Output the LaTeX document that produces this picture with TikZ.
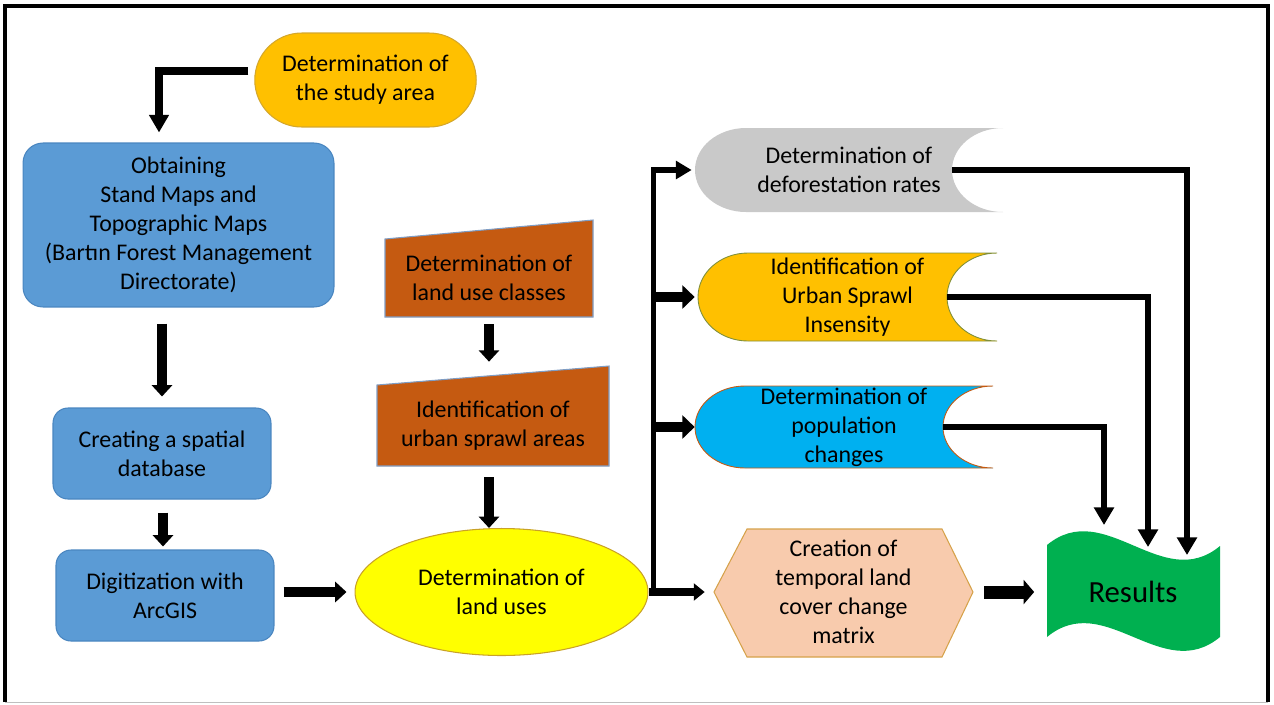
\documentclass[tikz,border=0pt]{standalone}
\usepackage{fontspec}
\setmainfont{Carlito}
\usetikzlibrary{positioning, shapes.geometric, shapes.misc, arrows.meta}

\definecolor{studygold}{HTML}{FFC000}
\definecolor{studyline}{HTML}{D4A72C}
\definecolor{mapblue}{HTML}{5B9BD5}
\definecolor{mapline}{HTML}{4A86C0}
\definecolor{classbrown}{HTML}{C55A11}
\definecolor{classline}{HTML}{7F9DC4}
\definecolor{landyellow}{HTML}{FFFF00}
\definecolor{landline}{HTML}{C9A227}
\definecolor{defogray}{HTML}{C9C9C9}
\definecolor{urbanline}{HTML}{7F8F3A}
\definecolor{popublue}{HTML}{00B0F0}
\definecolor{peach}{HTML}{F8CBAD}
\definecolor{peachline}{HTML}{D6A24A}
\definecolor{resgreen}{HTML}{00B050}

\tikzset{
  bluebox/.style={rectangle, rounded corners=0.4cm, fill=mapblue, draw=mapline, line width=0.6pt},
  fat/.style={line width=5.6pt, -{Triangle[width=11.5pt,length=6.5pt]}},
  trunk/.style={line width=3.4pt},
  slim/.style={line width=3pt, -{Triangle[width=11pt,length=10pt]}},
}

\begin{document}
\begin{tikzpicture}[x=0.02cm, y=-0.02cm,
  every node/.style={font=\fontsize{13.6}{16.5}\selectfont, align=center, inner sep=1pt}]
\useasboundingbox (0,0) rectangle (1274,704);
% frame
\draw[line width=2pt] (5,702) -- (5,6) -- (1268,6) -- (1268,702);
\draw[black!25] (5,702) -- (1268,702);

% left column
\node[rounded rectangle, fill=studygold, draw=studyline, line width=0.6pt,
  minimum width=4.5cm, minimum height=1.88cm] (study) at (365.5,80) {Determination of\\the study area};
\node[bluebox, minimum width=6.22cm, minimum height=3.28cm] (obtain) at (178.5,225)
  {Obtaining\\Stand Maps and\\Topographic Maps\\(Bartın Forest Management\\Directorate)};
\node[bluebox, rounded corners=0.3cm, minimum width=4.36cm, minimum height=1.82cm] (create) at (162,453.5) {Creating a spatial\\database};
\node[bluebox, rounded corners=0.3cm, minimum width=4.36cm, minimum height=1.82cm] (digit) at (165,595.5) {Digitization with\\ArcGIS};

% middle column
\draw[fill=classbrown, draw=classline, line width=0.6pt] (385,239) -- (593,220) -- (593,317) -- (385,317) -- cycle;
\node[minimum width=4.16cm, minimum height=1.56cm] (classes) at (489,278) {Determination of\\land use classes};
\draw[fill=classbrown, draw=classline, line width=0.6pt] (377,385) -- (609,366) -- (609,466) -- (377,466) -- cycle;
\node[minimum width=4.64cm, minimum height=1.62cm] (sprawl) at (493,425.5) {Identification of\\urban sprawl areas};
\node[ellipse, fill=landyellow, draw=landline, line width=0.6pt,
  minimum width=5.86cm, minimum height=2.54cm] (landuse) at (501.5,592) {Determination of\\land uses};

% right column
\fill[defogray] (746,128) -- (1003,128) arc[start angle=-90, end angle=-270, x radius=51, y radius=42]
  -- (746,212) arc[start angle=90, end angle=270, x radius=51, y radius=42] -- cycle;
\node[minimum width=6.16cm, minimum height=1.68cm] (defo) at (849,170) {Determination of\\deforestation rates};
\draw[fill=studygold, draw=urbanline, line width=0.5pt] (748,253) -- (997,253) arc[start angle=-90, end angle=-270, x radius=50, y radius=44]
  -- (748,341) arc[start angle=90, end angle=270, x radius=50, y radius=44] -- cycle;
\node[minimum width=5.98cm, minimum height=1.76cm] (urban) at (847.5,297) {Identification of\\Urban Sprawl\\Insensity};
\draw[fill=popublue, draw=classbrown, line width=0.5pt] (745,386) -- (993,386) arc[start angle=-90, end angle=-270, x radius=50, y radius=41]
  -- (745,468) arc[start angle=90, end angle=270, x radius=50, y radius=41] -- cycle;
\node[minimum width=5.96cm, minimum height=1.64cm] (popu) at (844,427) {Determination of\\population\\changes};
\draw[fill=peach, draw=peachline, line width=0.6pt] (714,592) -- (747,529) -- (942,529) -- (973,592) -- (942,657) -- (747,657) -- cycle;
\node[minimum width=5.18cm, minimum height=2.56cm] (change) at (843.5,592) {Creation of\\temporal land\\cover change\\matrix};
\fill[resgreen] (1047,545) .. controls (1105,497) and (1162,594) .. (1220,546)
  -- (1220,637) .. controls (1162,685) and (1105,589) .. (1047,637) -- cycle;
\node[font=\fontsize{17.5}{21}\selectfont, minimum width=3.46cm] (results) at (1133,592) {Results};

% connectors
\draw[line width=4.5pt, -{Triangle[width=10.8pt,length=10pt]}, shorten <=0.12cm, shorten >=0.2cm]
  ([yshift=0.18cm]study.west) -| ([xshift=-0.39cm]obtain.north);
\draw[fat, shorten <=0.32cm, shorten >=0.22cm] (create.north |- obtain.south) -- (create.north);
\draw[fat, shorten <=0.26cm, shorten >=0.06cm] ([xshift=0.02cm]create.south) -- ([xshift=0.02cm]create.south |- digit.north);
\draw[fat, shorten <=0.18cm, shorten >=0.16cm] (landuse.west -| digit.east) -- (landuse.west);
\draw[fat, shorten <=0.14cm, shorten >=0.46cm] (classes.south) -- (classes.south |- sprawl.north);
\draw[fat, shorten <=0.22cm] (sprawl.south -| classes.south) -- (landuse.north -| classes.south);

\coordinate (split) at ([xshift=0.1cm]landuse.east);
\draw[line width=4.2pt, -{Triangle[width=9.6pt,length=6.2pt]}, shorten >=0.18cm] (landuse.east) -- (change.west);
\draw[trunk, -{Triangle[width=10pt,length=9pt]}, shorten >=0.06cm] (split) |- (defo.west);
\draw[fat, -{Triangle[width=13pt,length=7pt]}, shorten >=0.06cm] (split |- urban.west) -- (urban.west);
\draw[fat, -{Triangle[width=13pt,length=7pt]}] (split |- popu.west) -- (popu.west);

\coordinate (resA) at (1104,525);
\coordinate (resB) at (1148,547);
\coordinate (resC) at (1187,555);
\draw[slim] ([xshift=-1.02cm]defo.east) -| (resC);
\draw[slim] ([xshift=-1.0cm]urban.east) -| (resB);
\draw[slim] ([xshift=-1.0cm]popu.east) -| (resA);
\draw[line width=7.4pt, -{Triangle[width=13.6pt,length=6pt]}, shorten <=0.22cm, shorten >=0.24cm] (change.east) -- (results.west);
\end{tikzpicture}
\end{document}
